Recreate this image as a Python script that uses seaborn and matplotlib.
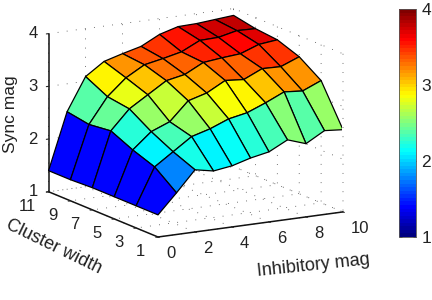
import numpy as np
import matplotlib
matplotlib.use('Agg')
import matplotlib.pyplot as plt
from matplotlib.colors import LinearSegmentedColormap
import seaborn as sns
from mpl_toolkits.mplot3d import proj3d

# Values
inhibitory_mag = [0, 1, 2, 3, 4, 5, 6, 7, 8, 9, 10]
cluster_width = [1, 3, 5, 7, 9, 11]
sync_mag = [
    [1.42, 1.79, 2.18, 2.11, 2.16, 2.26, 2.33, 2.51, 2.39, 2.59, 2.56],
    [1.42, 2.11, 2.35, 2.59, 2.69, 2.83, 2.90, 3.04, 3.20, 3.17, 3.32],
    [1.42, 2.26, 2.56, 2.70, 3.05, 3.15, 3.34, 3.31, 3.47, 3.46, 3.60],
    [1.42, 2.45, 2.82, 3.04, 3.26, 3.33, 3.51, 3.55, 3.58, 3.71, 3.75],
    [1.40, 2.40, 2.88, 3.19, 3.39, 3.46, 3.54, 3.71, 3.72, 3.80, 3.79],
    [1.40, 2.47, 3.09, 3.33, 3.43, 3.52, 3.70, 3.80, 3.81, 3.84, 3.87],
]
x_ticks = [0, 2, 4, 6, 8, 10]
y_ticks = [1, 3, 5, 7, 9, 11]
z_ticks = [1, 2, 3, 4]

sns.set_theme(style='white', font='Liberation Sans')
plt.rcParams['text.color'] = '#222222'

W, H = 432, 300
fig = plt.figure(figsize=(W / 100, H / 100), dpi=100)
ax = fig.add_axes([0, 0, 1, 1], projection='3d', proj_type='ortho')

X, Y = np.meshgrid(inhibitory_mag, cluster_width)
Z = np.array(sync_mag)

# matlab's jet, not quite the same as the matplotlib one
jet = LinearSegmentedColormap.from_list('matlab_jet', [
    (0, (0, 0, 0.5)), (0.125, (0, 0, 1)), (0.375, (0, 1, 1)),
    (0.625, (1, 1, 0)), (0.875, (1, 0, 0)), (1, (0.5, 0, 0))], N=64)
norm = plt.Normalize(1, 4)

# flat faces, colour comes from the first corner of each quad
ax.plot_surface(X, Y, Z, rstride=1, cstride=1, facecolors=jet(norm(Z)),
                shade=False, edgecolor='black', linewidth=0.9, antialiased=True)

ax.set_xlim(0, 10, view_margin=0)
ax.set_ylim(1, 11, view_margin=0)
ax.set_zlim(1, 4, view_margin=0)
ax.set_xticks(x_ticks)
ax.set_yticks(y_ticks)
ax.set_zticks(z_ticks)
ax.set_xticklabels([])
ax.set_yticklabels([])
ax.set_zticklabels([])
ax.view_init(elev=13.7, azim=-119.8)
aspect = (213, 220, 162.6)
ax.set_box_aspect(aspect)

for axis in (ax.xaxis, ax.yaxis, ax.zaxis):
    axis.set_pane_color((1, 1, 1, 0))
    axis.pane.set_edgecolor('none')
    axis._axinfo['axisline'].update(color='#111111', linewidth=1.1)
    axis.line.set_color('#111111')
    axis.line.set_linewidth(1.1)
    axis._axinfo['grid'].update(color='#444444', linewidth=0.6, linestyle=(0, (1, 10)))
    axis._axinfo['tick'].update(inward_factor=0.15, outward_factor=0.0, linewidth={True: 0.8, False: 0.5})
    axis._axinfo['tick']['color'] = '#222222'


def pixel(x, y, z):
    px, py, _ = proj3d.proj_transform(x, y, z, ax.get_proj())
    return ax.transData.transform((px, py))


# fit the 3d box onto the same pixels as the reference
fig.canvas.draw()
k = 185 / (pixel(10, 1, 1)[0] - pixel(0, 1, 1)[0])
ax.set_box_aspect(aspect, zoom=k)
fig.canvas.draw()
dx, dy = np.array([158, H - 237]) - pixel(0, 1, 1)
ax.set_position([dx / W, dy / H, 1, 1])
fig.canvas.draw()


# tick labels sit at a fixed pixel offset from the tick, like matlab does it
def tick_label(text, corner, off_x, off_y, ha):
    px, py = pixel(*corner)
    fig.text((px + off_x) / W, (py + off_y) / H, str(text), fontsize=12, ha=ha, va='center')


for t in x_ticks:
    tick_label(t, (t, 1, 1), 8, -17, 'left')
for t in y_ticks:
    tick_label(t, (0, t, 1), -13, -15, 'right')
for t in z_ticks:
    tick_label(t, (0, 11, t), -11, 0, 'right')

fig.text(11 / W, 1 - 114 / H, 'Sync mag', rotation=90, fontsize=12.5, ha='center', va='center')
fig.text(54 / W, 1 - 247 / H, 'Cluster width', rotation=-26, rotation_mode='anchor', fontsize=13, ha='center', va='center')
fig.text(313 / W, 1 - 266 / H, 'Inhibitory mag', rotation=6, rotation_mode='anchor', fontsize=13, ha='center', va='center')

cax = fig.add_axes([399 / W, 1 - 237 / H, 17 / W, 228 / H])
sm = plt.cm.ScalarMappable(norm=norm, cmap=jet)
cb = fig.colorbar(sm, cax=cax, ticks=z_ticks)
cb.outline.set_linewidth(0.6)
cb.outline.set_edgecolor('#555555')
cax.tick_params(axis='y', direction='in', length=2, width=0.6, left=True, right=True,
                labelsize=12.5, labelcolor='#222222', pad=4, color='#222222')

fig.savefig('out.png', dpi=100)
